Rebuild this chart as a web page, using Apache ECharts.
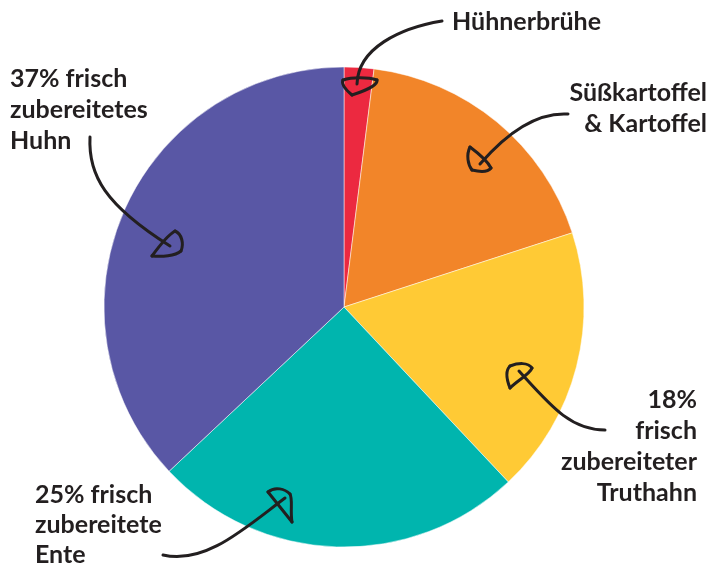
<!DOCTYPE html>
<html>
<head>
<meta charset="utf-8">
<script src="https://cdn.jsdelivr.net/npm/echarts@6/dist/echarts.min.js"></script>
<style>
  html, body { margin: 0; padding: 0; background: #fff; }
  #chart { width: 708px; height: 567px; }
</style>
</head>
<body>
<div id="chart"></div>
<script>
// slices clockwise from 12 o'clock
var categories = ['Hühnerbrühe', 'Süßkartoffel & Kartoffel', 'frisch zubereiteter Truthahn', 'frisch zubereitete Ente', 'frisch zubereitetes Huhn'];
var values = [2, 18, 18, 25, 37];
var colors = ['#EC2940', '#F28529', '#FFCA35', '#00B5AE', '#5957A5'];
var labelTexts = [
  'Hühnerbrühe',
  'Süßkartoffel\n& Kartoffel',
  '18%\nfrisch\nzubereiteter\nTruthahn',
  '25% frisch\nzubereitete\nEnte',
  '37% frisch\nzubereitetes\nHuhn'
];

var ink = '#231F20';
var font = 'Lato, "Noto Sans", sans-serif';

function label(i, x, y, align, lh) {
  return {
    type: 'text', x: x, y: y, z: 100,
    style: {
      text: labelTexts[i], fill: ink, align: align, verticalAlign: 'top',
      fontFamily: font, fontWeight: 'bold', fontSize: 25, lineHeight: lh
    }
  };
}
// pts: [x0,y0, c1x,c1y, c2x,c2y, x1,y1, c1x,c1y, ...] -> chain of cubic curves
function scribble(pts) {
  var out = [];
  for (var i = 0; i + 7 < pts.length; i += 6) {
    out.push({
      type: 'bezierCurve', z: 100,
      shape: {
        x1: pts[i], y1: pts[i + 1],
        cpx1: pts[i + 2], cpy1: pts[i + 3],
        cpx2: pts[i + 4], cpy2: pts[i + 5],
        x2: pts[i + 6], y2: pts[i + 7]
      },
      style: {fill: null, stroke: ink, lineWidth: 3, lineCap: 'round'}
    });
  }
  return out;
}

var arrows = [].concat(
  scribble([442,21, 400,28, 358,48, 357,84]),
  scribble([352,95, 346,90, 341,84, 343,80, 352,77, 368,77, 377,80, 378,85, 365,91, 352,95]),
  scribble([568,114, 535,112, 505,135, 480,164]),
  scribble([470,147, 466,155, 468,165, 472,170, 480,172, 488,172, 491,168, 487,160, 478,153, 470,147]),
  scribble([605,430, 570,430, 550,405, 519,371]),
  scribble([510,388, 506,378, 506,370, 510,366, 518,363, 528,362, 532,368, 530,374, 518,380, 510,388]),
  scribble([163,555, 205,565, 245,528, 285,498]),
  scribble([292,522, 290,510, 293,500, 290,494, 285,489, 275,486, 268,492, 276,502, 284,512, 292,522]),
  scribble([90,137, 88,175, 105,205, 170,246]),
  scribble([152,256, 160,245, 168,235, 175,231, 182,234, 184,244, 181,251, 175,256, 162,257, 152,256])
);

var myChart = echarts.init(document.getElementById('chart'));
myChart.setOption({
  animation: false,
  color: colors,
  series: [{
    type: 'pie',
    z: 1,
    center: [344, 307],
    radius: 240,
    startAngle: 90,
    clockwise: true,
    label: {show: false},
    labelLine: {show: false},
    itemStyle: {borderColor: '#fff', borderWidth: 0.5},
    data: categories.map(function (c, i) { return {name: c, value: values[i]}; })
  }],
  graphic: {
    z: 100,
    elements: [
      label(0, 452, 7, 'left', 30),
      label(1, 707, 77, 'right', 31),
      label(2, 697, 384, 'right', 31),
      label(3, 35, 480, 'left', 30),
      label(4, 10, 63, 'left', 31)
    ].concat(arrows)
  }
});
</script>
</body>
</html>
